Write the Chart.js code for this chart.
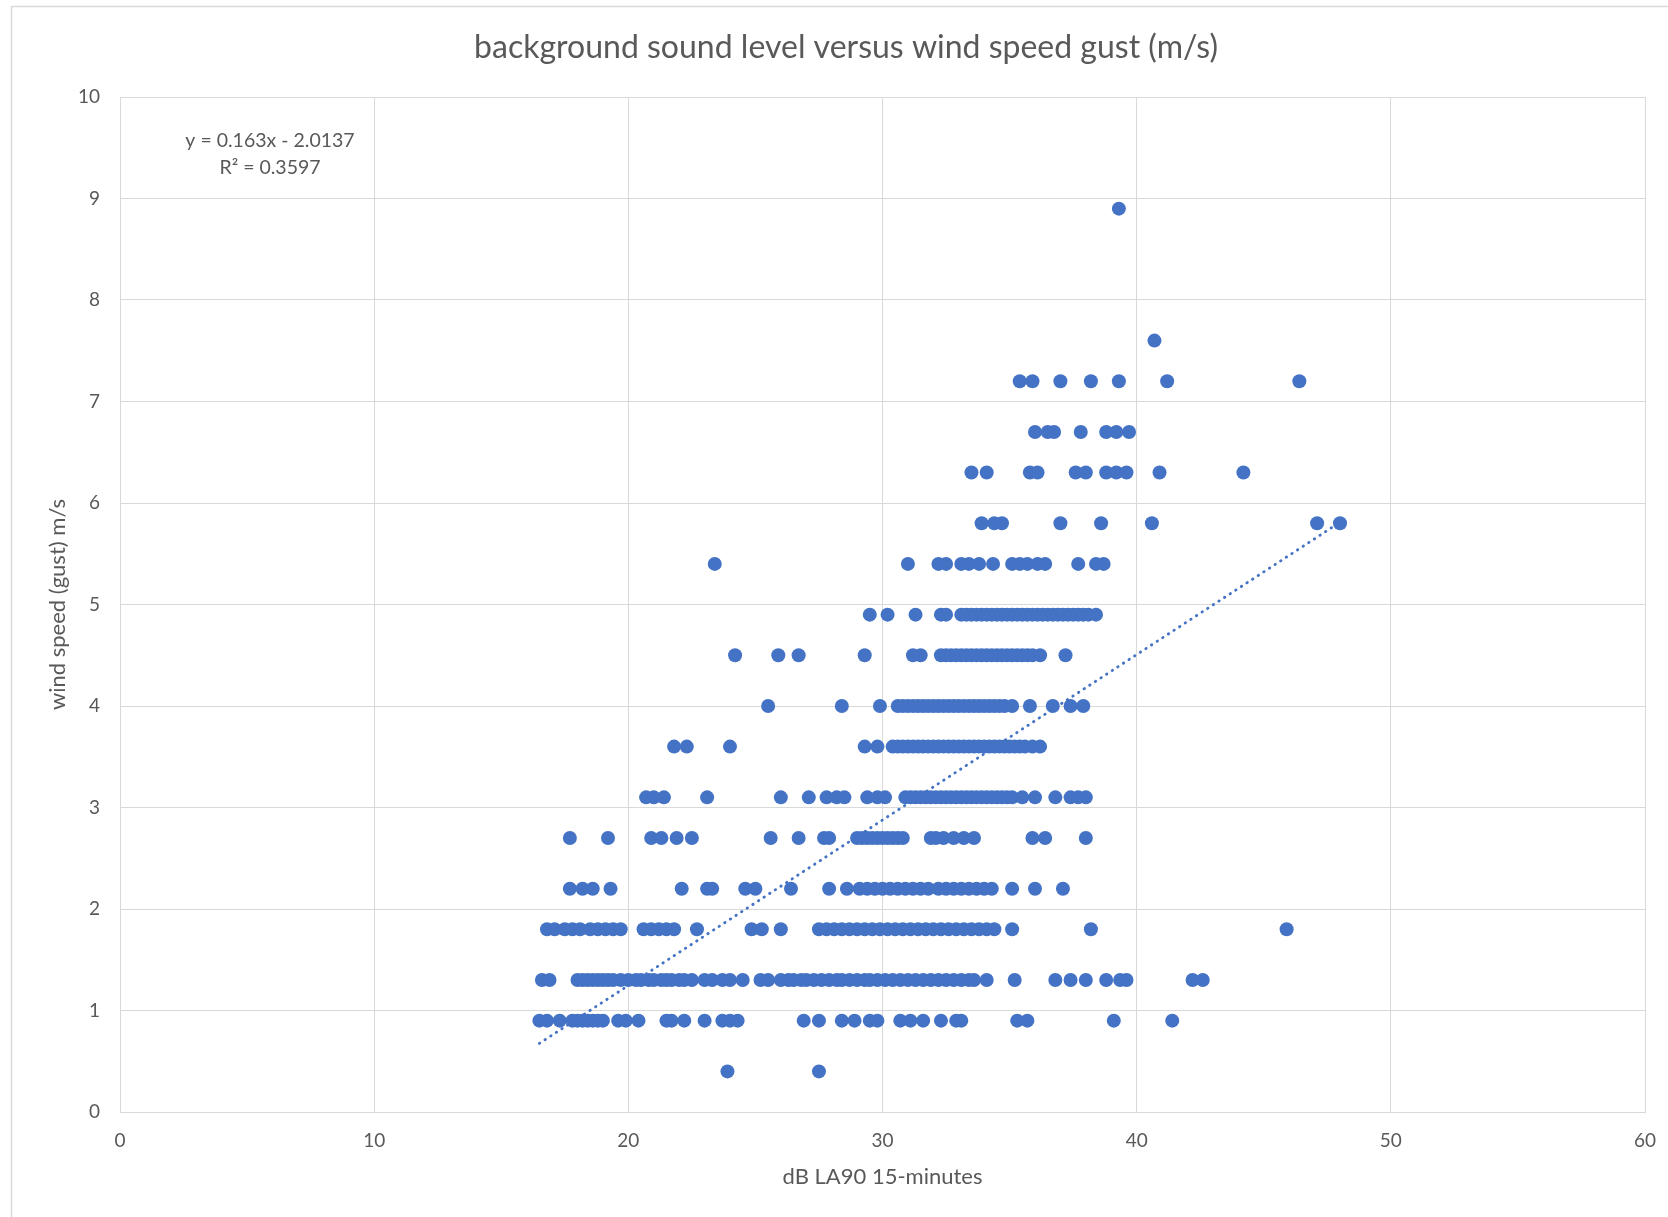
<!DOCTYPE html>
<html>
<head>
<meta charset="utf-8">
<title>background sound level versus wind speed gust (m/s)</title>
<script src="https://cdn.jsdelivr.net/npm/chart.js@4.4.1/dist/chart.umd.min.js"></script>
<style>
  html, body { margin: 0; padding: 0; background: #fff; }
  #chart { display: block; }
</style>
</head>
<body>
<canvas id="chart" width="1668" height="1217"></canvas>
<script>
// dB LA90 readings, grouped by the gust speed (m/s) they were logged with
const gust04 = [23.9, 27.5];
const gust09 = [16.5, 16.8, 17.3, 17.8, 18.0, 18.2, 18.4, 18.6, 18.8, 19.0, 19.6, 19.9, 20.4, 21.5, 21.7, 22.2,
    23.0, 23.7, 24.0, 24.3, 26.9, 27.5, 28.4, 28.9, 29.5, 29.8, 30.7, 31.1, 31.6, 32.3, 32.9, 33.1, 35.3, 35.7,
    39.1, 41.4];
const gust13 = [16.6, 16.9, 18.0, 18.2, 18.4, 18.6, 18.8, 19.0, 19.2, 19.4, 19.7, 20.0, 20.3, 20.5, 20.8, 21.0,
    21.3, 21.5, 21.7, 22.0, 22.2, 22.5, 23.0, 23.3, 23.7, 24.0, 24.5, 25.2, 25.5, 26.0, 26.3, 26.5, 26.8, 27.0,
    27.3, 27.6, 27.9, 28.2, 28.4, 28.7, 29.0, 29.3, 29.5, 29.8, 30.1, 30.4, 30.7, 31.0, 31.3, 31.6, 31.9, 32.2,
    32.5, 32.8, 33.1, 33.4, 33.6, 34.1, 35.2, 36.8, 37.4, 38.0, 38.8, 39.35, 39.6, 42.2, 42.6];
const gust18 = [16.8, 17.1, 17.5, 17.8, 18.1, 18.5, 18.8, 19.1, 19.4, 19.7, 20.6, 20.9, 21.2, 21.5, 21.8, 22.7,
    24.85, 25.25, 26.0, 27.5, 27.8, 28.1, 28.4, 28.7, 29.0, 29.3, 29.6, 29.9, 30.2, 30.5, 30.8, 31.1, 31.4, 31.7,
    32.0, 32.3, 32.6, 32.9, 33.2, 33.5, 33.8, 34.1, 34.4, 35.1, 38.2, 45.9];
const gust22 = [17.7, 18.2, 18.6, 19.3, 22.1, 23.1, 23.3, 24.6, 25.0, 26.4, 27.9, 28.6, 29.1, 29.4, 29.7, 30.0,
    30.3, 30.6, 30.9, 31.2, 31.5, 31.8, 32.2, 32.5, 32.8, 33.1, 33.4, 33.7, 34.0, 34.3, 35.1, 36.0, 37.1];
const gust27 = [17.7, 19.2, 20.9, 21.3, 21.9, 22.5, 25.6, 26.7, 27.7, 27.9, 29.0, 29.2, 29.4, 29.6, 29.8, 30.0,
    30.2, 30.4, 30.6, 30.8, 31.9, 32.1, 32.4, 32.8, 33.2, 33.6, 35.9, 36.4, 38.0];
const gust31 = [20.7, 21.0, 21.4, 23.1, 26.0, 27.1, 27.8, 28.2, 28.5, 29.4, 29.8, 30.1, 30.9, 31.1, 31.3, 31.5,
    31.7, 31.9, 32.1, 32.3, 32.5, 32.7, 32.9, 33.1, 33.3, 33.5, 33.7, 33.9, 34.1, 34.3, 34.5, 34.7, 34.9, 35.1,
    35.5, 36.0, 36.8, 37.4, 37.7, 38.0];
const gust36 = [21.8, 22.3, 24.0, 29.3, 29.8, 30.4, 30.6, 30.8, 31.0, 31.2, 31.4, 31.6, 31.8, 32.0, 32.2, 32.4,
    32.6, 32.8, 33.0, 33.2, 33.4, 33.6, 33.8, 34.0, 34.2, 34.4, 34.6, 34.8, 35.0, 35.2, 35.4, 35.6, 35.9, 36.2];
const gust40 = [25.5, 28.4, 29.9, 30.6, 30.8, 31.0, 31.2, 31.4, 31.6, 31.8, 32.0, 32.2, 32.4, 32.6, 32.8, 33.0,
    33.2, 33.4, 33.6, 33.8, 34.0, 34.2, 34.4, 34.6, 34.8, 35.1, 35.8, 36.7, 37.4, 37.9];
const gust45 = [24.2, 25.9, 26.7, 29.3, 31.2, 31.5, 32.3, 32.5, 32.7, 32.9, 33.1, 33.3, 33.5, 33.7, 33.9, 34.1,
    34.3, 34.5, 34.7, 34.9, 35.1, 35.3, 35.5, 35.7, 35.9, 36.2, 37.2];
const gust49 = [29.5, 30.2, 31.3, 32.3, 32.5, 33.1, 33.3, 33.5, 33.7, 33.9, 34.1, 34.3, 34.5, 34.7, 34.9, 35.1,
    35.3, 35.5, 35.7, 35.9, 36.1, 36.3, 36.5, 36.7, 36.9, 37.1, 37.3, 37.5, 37.7, 37.9, 38.1, 38.4];
const gust54 = [23.4, 31.0, 32.2, 32.5, 33.1, 33.4, 33.8, 34.35, 35.1, 35.4, 35.7, 36.1, 36.4, 37.7, 38.4, 38.7];
const gust58 = [33.9, 34.4, 34.7, 37.0, 38.6, 40.6, 47.1, 48.0];
const gust63 = [33.5, 34.1, 35.8, 36.1, 37.6, 38.0, 38.8, 39.2, 39.6, 40.9, 44.2];
const gust67 = [36.0, 36.5, 36.75, 37.8, 38.8, 39.2, 39.7];
const gust72 = [35.4, 35.9, 37.0, 38.2, 39.3, 41.2, 46.4];
const gust76 = [40.7];
const gust89 = [39.3];

const gustLevels = [0.4, 0.9, 1.3, 1.8, 2.2, 2.7, 3.1, 3.6, 4.0, 4.5, 4.9, 5.4, 5.8, 6.3, 6.7, 7.2, 7.6, 8.9];
const gustRows = [gust04, gust09, gust13, gust18, gust22, gust27, gust31, gust36, gust40, gust45, gust49,
    gust54, gust58, gust63, gust67, gust72, gust76, gust89];

// linear trendline as reported by the spreadsheet
const SLOPE = 0.163;
const INTERCEPT = -2.0137;
const R_SQUARED = 0.3597;

const TEXT = '#595959';
const GRID = '#d9d9d9';
const BLUE = '#4472c4';
const FONT = 'Lato, "Open Sans", sans-serif';

let points = [];
gustRows.forEach((row, i) => {
    row.forEach(db => points.push({ x: db, y: gustLevels[i] }));
});

const xs = points.map(p => p.x);
const xMin = Math.min(...xs);
const xMax = Math.max(...xs);
const trend = [
    { x: xMin, y: SLOPE * xMin + INTERCEPT },
    { x: xMax, y: SLOPE * xMax + INTERCEPT },
];

// white background + the thin chart frame
const framePlugin = {
    id: 'frame',
    beforeDraw(chart) {
        const c = chart.ctx;
        c.save();
        c.fillStyle = '#fff';
        c.fillRect(0, 0, chart.width, chart.height);
        c.strokeStyle = GRID;
        c.lineWidth = 1.5;
        c.strokeRect(11.5, 6.5, chart.width + 20, chart.height + 20);
        c.restore();
    }
};

// trendline equation box, top left of the plot
const equationPlugin = {
    id: 'equation',
    afterDatasetsDraw(chart) {
        const c = chart.ctx;
        const area = chart.chartArea;
        const sign = INTERCEPT < 0 ? '-' : '+';
        c.save();
        c.fillStyle = TEXT;
        c.font = '19.5px ' + FONT;
        c.textAlign = 'center';
        c.textBaseline = 'middle';
        c.fillText('y = ' + SLOPE + 'x ' + sign + ' ' + Math.abs(INTERCEPT), area.left + 150, area.top + 44);
        c.fillText('R² = ' + R_SQUARED, area.left + 150, area.top + 71);
        c.restore();
    }
};

const ctx = document.getElementById('chart').getContext('2d');
const chart = new Chart(ctx, {
    type: 'scatter',
    data: {
        datasets: [
            {
                label: 'wind speed (gust)',
                data: points,
                backgroundColor: BLUE,
                borderColor: BLUE,
                pointRadius: 7,
                pointHoverRadius: 7,
                borderWidth: 0,
            },
            {
                type: 'line',
                label: 'Linear trend',
                data: trend,
                borderColor: BLUE,
                borderWidth: 2.8,
                borderDash: [0.5, 6.2],
                borderCapStyle: 'round',
                pointRadius: 0,
                fill: false,
            },
        ],
    },
    options: {
        responsive: false,
        animation: false,
        devicePixelRatio: 1,
        layout: {
            padding: { left: 24, right: 0, top: 0, bottom: 0 },
        },
        plugins: {
            legend: { display: false },
            tooltip: { enabled: false },
            title: {
                display: true,
                text: 'background sound level versus wind speed gust (m/s)',
                color: TEXT,
                font: { family: FONT, size: 32, weight: 'normal' },
                padding: { top: 28, bottom: 30.6 },
            },
        },
        scales: {
            x: {
                type: 'linear',
                min: 0,
                max: 60,
                ticks: {
                    stepSize: 10,
                    padding: 17,
                    color: TEXT,
                    font: { family: FONT, size: 19 },
                },
                grid: { color: GRID, drawTicks: false },
                border: { color: GRID },
                title: {
                    display: true,
                    text: 'dB LA90 15-minutes',
                    color: TEXT,
                    font: { family: FONT, size: 22 },
                    padding: { top: 0, bottom: 27 },
                },
                afterFit(scale) {
                    scale.height = 105;
                    scale.paddingLeft = 0;
                    scale.paddingRight = 23;
                },
            },
            y: {
                type: 'linear',
                min: 0,
                max: 10,
                ticks: {
                    stepSize: 1,
                    padding: 20,
                    color: TEXT,
                    font: { family: FONT, size: 19 },
                },
                grid: { color: GRID, drawTicks: false },
                border: { color: GRID },
                title: {
                    display: true,
                    text: 'wind speed (gust) m/s',
                    color: TEXT,
                    font: { family: FONT, size: 22 },
                    padding: { top: 21, bottom: 0 },
                },
                afterFit(scale) {
                    scale.width = 96;
                    scale.paddingTop = 0;
                    scale.paddingBottom = 0;
                },
            },
        },
    },
    plugins: [framePlugin, equationPlugin],
});
</script>
</body>
</html>
